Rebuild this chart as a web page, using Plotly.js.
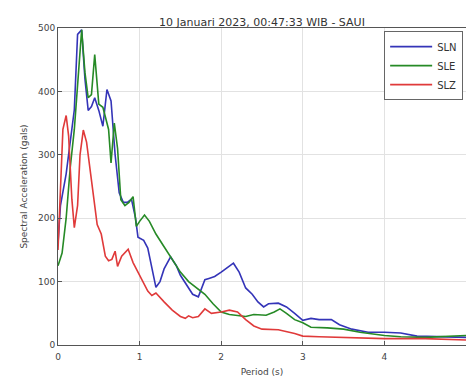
<!DOCTYPE html>
<html><head><meta charset="utf-8">
<script src="https://cdn.plot.ly/plotly-3.0.1.min.js"></script>
<style>html,body{margin:0;padding:0;background:#fff}</style>
</head><body><div id="chart" style="width:466px;height:377px"></div>
<script>
const slnT = [0,0.03,0.1,0.17,0.2,0.24,0.29,0.33,0.37,0.41,0.45,0.5,0.55,0.6,0.65,0.7,0.75,0.8,0.85,0.9,0.95,0.98,1.05,1.1,1.15,1.2,1.25,1.3,1.38,1.45,1.5,1.58,1.65,1.72,1.8,1.85,1.92,2.0,2.08,2.15,2.22,2.3,2.38,2.45,2.52,2.58,2.7,2.8,2.9,3.0,3.1,3.2,3.35,3.45,3.6,3.8,4.0,4.2,4.4,4.6,4.8,5.0];
const slnSA = [160,220,270,347,371,490,497,420,370,376,390,370,345,403,385,300,240,225,225,230,200,170,165,153,120,91,100,120,139,125,110,95,80,76,103,105,108,115,122,129,115,90,80,68,60,65,66,60,50,39,42,40,40,32,25,20,20,19,14,13,12,12];
const sleT = [0,0.05,0.1,0.15,0.2,0.25,0.29,0.33,0.37,0.41,0.45,0.5,0.55,0.58,0.62,0.65,0.69,0.73,0.77,0.82,0.87,0.92,0.96,1.0,1.06,1.12,1.2,1.3,1.4,1.5,1.6,1.7,1.8,1.9,2.0,2.1,2.2,2.3,2.4,2.55,2.65,2.72,2.8,2.9,3.0,3.1,3.3,3.5,3.7,4.0,4.2,4.5,5.0];
const sleSA = [125,145,200,280,340,420,497,430,390,395,458,380,375,360,340,287,350,310,229,220,225,234,187,195,205,195,175,155,135,115,100,90,80,65,52,48,46,45,48,47,52,57,50,40,35,28,27,25,20,15,13,12,15];
const slzT = [0,0.03,0.06,0.1,0.13,0.17,0.2,0.24,0.27,0.31,0.35,0.4,0.45,0.48,0.53,0.58,0.62,0.66,0.7,0.73,0.78,0.86,0.92,1.0,1.1,1.15,1.2,1.3,1.4,1.5,1.56,1.6,1.65,1.72,1.8,1.88,2.0,2.1,2.2,2.3,2.4,2.5,2.7,2.9,3.0,3.2,3.5,4.0,4.5,5.0];
const slzSA = [150,250,340,362,330,230,185,220,300,339,320,270,220,190,175,140,133,135,148,124,140,151,130,110,85,78,82,68,55,45,42,46,43,45,57,50,52,55,52,40,30,25,24,18,14,13,12,10,10,8];
const names = ['SLN','SLE','SLZ'];
const colors = ['#3434b8','#268a26','#e03a3a'];
const xs = [slnT, sleT, slzT], ys = [slnSA, sleSA, slzSA];
const traces = names.map((n,i)=>({x:xs[i], y:ys[i], name:n, type:'scatter', mode:'lines', line:{color:colors[i], width:1.6}}));
const axFont = {family:'DejaVu Sans', size:9, color:'#444'};
const layout = {
  width:466, height:377,
  margin:{l:58, r:0, t:28, b:32},
  paper_bgcolor:'#fff', plot_bgcolor:'#fff',
  title:{text:'10 Januari 2023, 00:47:33 WIB - SAUI', font:{family:'DejaVu Sans', size:11, color:'#333'}, x:0.5, xref:'paper', y:1, yref:'paper', yanchor:'bottom', pad:{b:2}},
  xaxis:{range:[0,5], dtick:1, tick0:0, showgrid:true, gridcolor:'#e2e2e2', gridwidth:1, zeroline:false, showline:true, linecolor:'#555', linewidth:1, mirror:true, ticks:'inside', ticklen:4, tickcolor:'#555', tickfont:axFont, ticklabelstandoff:3,
    title:{text:'Period (s)', font:{family:'DejaVu Sans', size:9, color:'#444'}, standoff:8}},
  yaxis:{range:[0,500], dtick:100, tick0:0, showgrid:true, gridcolor:'#e2e2e2', gridwidth:1, zeroline:false, showline:true, linecolor:'#555', linewidth:1, mirror:true, ticks:'inside', ticklen:4, tickcolor:'#555', tickfont:axFont,
    title:{text:'Spectral Acceleration (gals)', font:{family:'DejaVu Sans', size:9, color:'#444'}, standoff:8}},
  legend:{x:0.993, xanchor:'right', y:0.99, yanchor:'top', bgcolor:'#fff', bordercolor:'#666', borderwidth:1, itemwidth:42, font:{family:'DejaVu Sans', size:10, color:'#333'}, tracegroupgap:0},
  showlegend:true
};
Plotly.newPlot('chart', traces, layout, {displayModeBar:false, staticPlot:true});
</script>
</body></html>
